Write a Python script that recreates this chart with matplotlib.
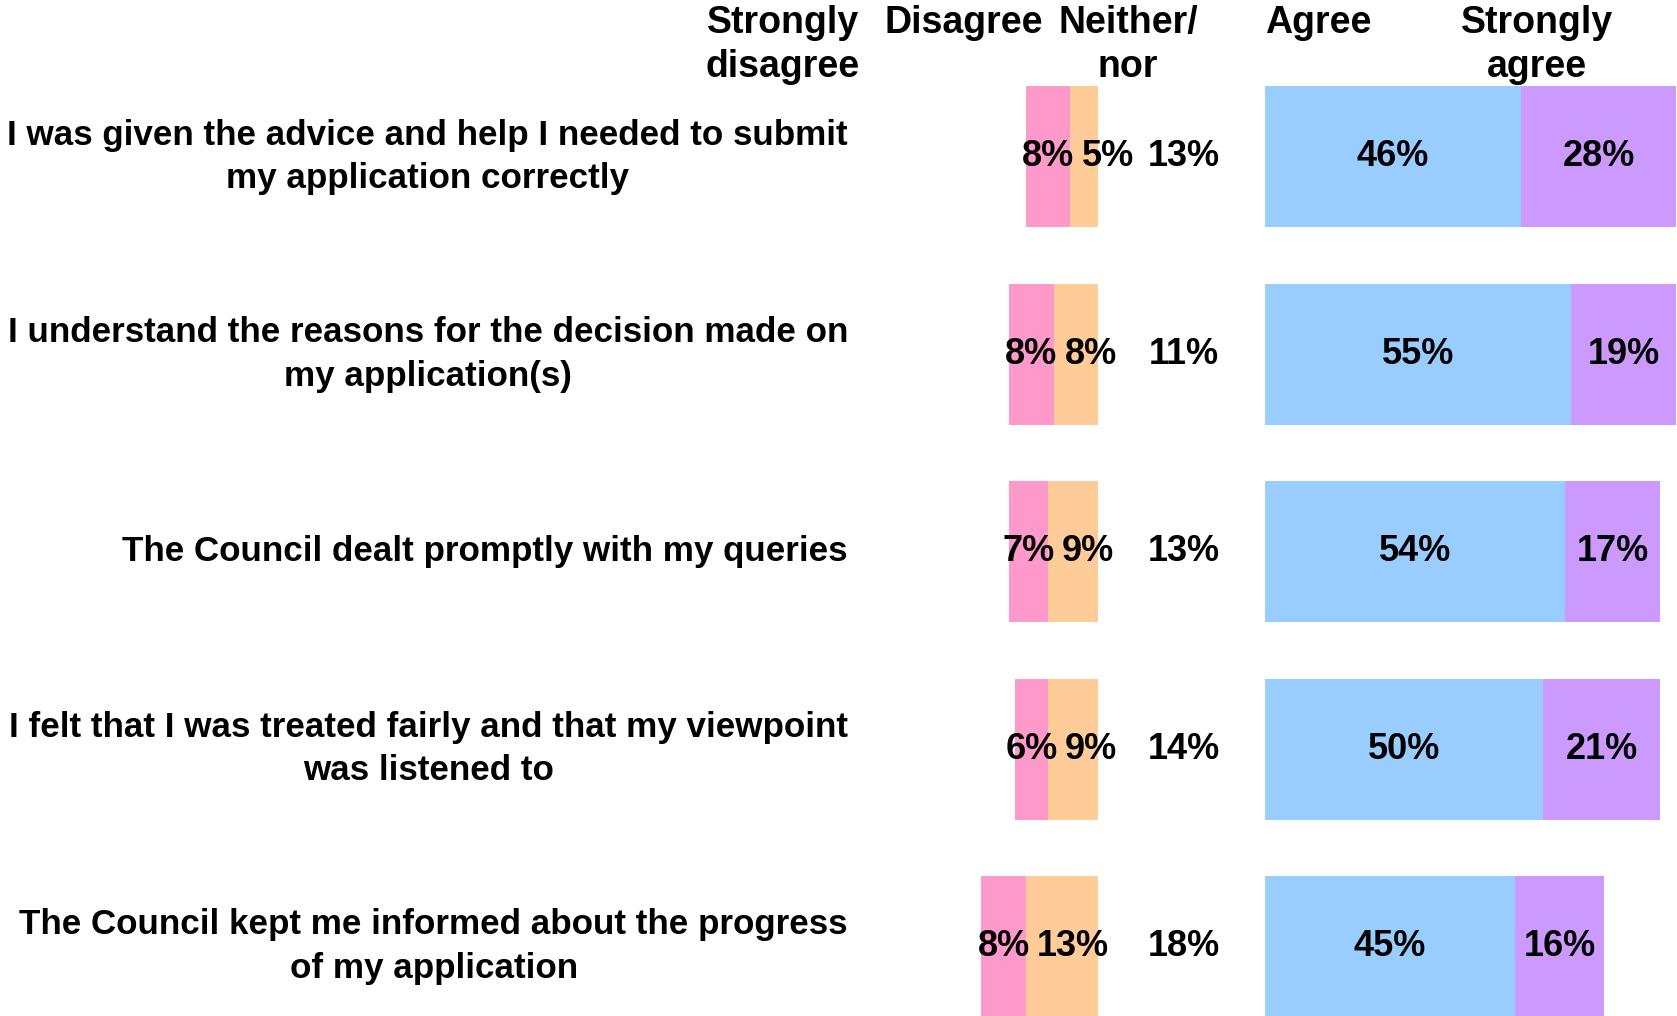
import matplotlib

matplotlib.use("Agg")
import matplotlib.pyplot as plt
import numpy as np

statements = [
    "I was given the advice and help I needed to submit\nmy application correctly",
    "I understand the reasons for the decision made on\nmy application(s)",
    "The Council dealt promptly with my queries",
    "I felt that I was treated fairly and that my viewpoint\nwas listened to",
    "The Council kept me informed about the progress\nof my application",
]
strongly_disagree = [8, 8, 7, 6, 8]
disagree = [5, 8, 9, 9, 13]
neither = [13, 11, 13, 14, 18]
agree = [46, 55, 54, 50, 45]
strongly_agree = [28, 19, 17, 21, 16]

headers = ["Strongly\ndisagree", "Disagree", "Neither/\nnor", "Agree", "Strongly\nagree"]

C_SD = "#FF99CC"
C_D = "#FFCC99"
C_A = "#99CCFF"
C_SA = "#CC99FF"

plt.rcParams["font.family"] = ["Liberation Sans", "DejaVu Sans"]
plt.rcParams["font.weight"] = "bold"

AGREE_START = 30      # gap between disagree block and agree block
NEITHER_X = 15.4
FS_LABEL = 25.2
FS_NUM = 26
FS_HEAD = 27

fig = plt.figure(figsize=(16.77, 10.16), dpi=100)
ax = fig.add_axes([0, 0, 1, 1])
ax.set_xlim(-197.5, 104.1)
ax.set_ylim(4.352, -0.795)
ax.axis("off")

y = np.arange(len(statements))
sd = np.array(strongly_disagree)
d = np.array(disagree)
a = np.array(agree)
sa = np.array(strongly_agree)
h = 0.715

# disagree side grows leftwards from 0
ax.barh(y, -d, height=h, color=C_D, left=0)
ax.barh(y, -sd, height=h, color=C_SD, left=-d)
# agree side starts after the neutral column
ax.barh(y, a, height=h, color=C_A, left=AGREE_START)
ax.barh(y, sa, height=h, color=C_SA, left=AGREE_START + a)

for i in range(len(y)):
    sd_mid = -d[i] - sd[i] / 2
    ax.text(sd_mid, y[i], f"{sd[i]}%", ha="center", va="center", fontsize=FS_NUM)
    # disagree label sits just right of the strongly-disagree label
    ax.text(sd_mid + 6.0, y[i], f"{d[i]}%", ha="left", va="center", fontsize=FS_NUM)
    ax.text(NEITHER_X, y[i], f"{neither[i]}%", ha="center", va="center", fontsize=FS_NUM)
    ax.text(AGREE_START + a[i] / 2, y[i], f"{a[i]}%", ha="center", va="center", fontsize=FS_NUM)
    ax.text(AGREE_START + a[i] + sa[i] / 2, y[i], f"{sa[i]}%", ha="center", va="center",
            fontsize=FS_NUM)
    ax.text(-45, y[i], statements[i], ha="right", va="center", multialignment="center",
            fontsize=FS_LABEL, linespacing=1.4)

for hx, label in zip([-56.7, -24.2, 5.4, 39.6, 79.0], headers):
    ax.text(hx, -0.795 + 0.025, label, ha="center", va="top", fontsize=FS_HEAD,
            linespacing=1.3)

fig.savefig("out.png", dpi=100)
